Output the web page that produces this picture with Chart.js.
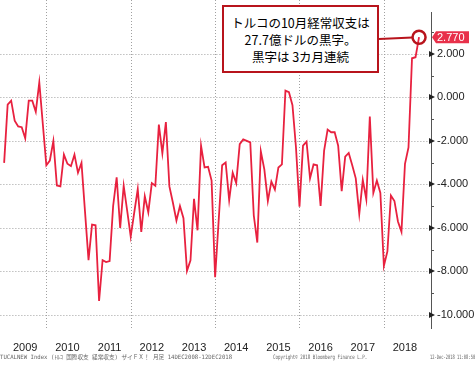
<!DOCTYPE html>
<html><head><meta charset="utf-8">
<script src="https://cdn.jsdelivr.net/npm/chart.js@4.4.0/dist/chart.umd.min.js"></script>
<style>
html,body{margin:0;padding:0;background:#fff;}
#wrap{position:relative;width:476px;height:365px;overflow:hidden;background:#fff;}
#c{position:absolute;left:0;top:0;}
#note{position:absolute;left:222px;top:5px;width:157px;height:68px;box-sizing:border-box;border:2.5px solid #b8141c;background:#fff;
 font-family:"Noto Sans CJK JP";font-size:12.5px;line-height:17px;text-align:center;color:#000;padding-top:7px;}
.foot{position:absolute;top:354px;font-family:"DejaVu Sans Mono","Noto Sans CJK JP";font-size:6px;line-height:6px;color:#666;white-space:nowrap;transform-origin:left top;}
</style></head>
<body>
<div id="wrap">
<canvas id="c" width="476" height="365"></canvas>
<div id="note">トルコの10月経常収支は<br>27.7億ドルの黒字。<br>黒字は 3カ月連続</div>
<div class="foot" data-x="0" data-w="232">TUCALNEW Index (ﾄﾙｺ 国際収支 経常収支) ザイＦＸ！ 月足 14DEC2008-12DEC2018</div>
<div class="foot" data-x="273" data-w="94">Copyright© 2018 Bloomberg Finance L.P.</div>
<div class="foot" data-x="430" data-w="45">12-Dec-2018 11:08:50</div>
</div>
<script>
// Categories: monthly observations, Dec 2008 .. Oct 2018
const firstYear = 2008, firstMonth = 12;
// Turkey current account balance, USD million
const caValues = [
 -3010, -330, -150, -1070, -1330, -1370, -1880, -150, -150, -660, 690, -1220,
 -3120, -2900, -2000, -4050, -4090, -2630, -3050, -3160, -2630, -3460, -3010, -5250,
 -7480, -5850, -5880, -9360, -7480, -7570, -7520, -4990, -3670, -6000, -4060, -5210,
 -6400, -5300, -4210, -6180, -4540, -5280, -3940, -4060, -1250, -2570, -1130, -4090,
 -4840, -5660, -4990, -5550, -7970, -7490, -4660, -6110, -2220, -3220, -3190, -3820,
 -8270, -5690, -3120, -2990, -4720, -3460, -3940, -2150, -1930, -2000, -2070, -5430,
 -6670, -2480, -3310, -4760, -3870, -4240, -3220, -3080, 310, 240, -360, -2300,
 -5020, -2220, -2030, -3720, -3080, -3120, -4990, -2450, -1480, -1600, -1600, -2220,
 -4310, -2720, -2550, -3120, -3720, -5360, -3790, -4690, -880, -4390, -3820, -4390,
 -7750, -7080, -4510, -4760, -5700, -6180, -3050, -2300, 1800, 1850, 2770
];
const months = caValues.map((_, i) => {
  const m = (firstMonth - 1 + i) % 12 + 1;
  const y = firstYear + Math.floor((firstMonth - 1 + i) / 12);
  return y + '-' + String(m).padStart(2, '0');
});
const yearLabels = ['2009','2010','2011','2012','2013','2014','2015','2016','2017','2018'];
const yMin = -10600, yMax = 3900;

const lineColor = '#e8213f';
const noteColor = '#b8141c';

const idxOf = lab => months.indexOf(lab);
const yearMidIdx = yearLabels.map(yl => idxOf(yl + '-06'));
const gridIdx = ['2009-12','2011-12','2013-12','2015-12','2017-12'].map(idxOf);

const decor = {
  id: 'decor',
  beforeDatasetsDraw(chart) {
    const {ctx, chartArea: a, scales: {x, y}} = chart;
    ctx.save();
    ctx.strokeStyle = '#a0a0a0';
    ctx.lineWidth = 1;
    ctx.setLineDash([1, 2]);
    y.ticks.forEach(t => {
      if (t.value % 2000 !== 0) return;
      const py = Math.round(y.getPixelForValue(t.value)) + 0.5;
      ctx.beginPath(); ctx.moveTo(a.left, py); ctx.lineTo(a.right, py); ctx.stroke();
    });
    gridIdx.forEach(m => {
      const px = Math.round(x.getPixelForValue(m)) + 0.5;
      ctx.beginPath(); ctx.moveTo(px, 0); ctx.lineTo(px, a.bottom + 2); ctx.stroke();
    });
    ctx.restore();
  },
  afterDraw(chart) {
    const {ctx, chartArea: a, scales: {x, y}} = chart;
    ctx.save();
    const ax = a.right;
    // tick marks
    y.ticks.forEach(t => {
      const py = Math.round(y.getPixelForValue(t.value));
      if (t.value % 2000 === 0) {
        ctx.fillStyle = '#222';
        ctx.beginPath(); ctx.moveTo(ax - 2, py - 3); ctx.lineTo(ax - 2, py + 3); ctx.lineTo(ax + 4, py); ctx.closePath(); ctx.fill();
      } else {
        ctx.strokeStyle = '#555'; ctx.lineWidth = 1;
        ctx.beginPath(); ctx.moveTo(ax, py + 0.5); ctx.lineTo(ax + 3, py + 0.5); ctx.stroke();
      }
    });
    // last value tag
    const li = caValues.length - 1;
    const lv = caValues[li];
    const ly = y.getPixelForValue(lv);
    ctx.fillStyle = '#e8304a';
    ctx.beginPath();
    ctx.moveTo(ax + 1, ly); ctx.lineTo(ax + 5, ly - 6); ctx.lineTo(ax + 38, ly - 6);
    ctx.lineTo(ax + 38, ly + 6); ctx.lineTo(ax + 5, ly + 6); ctx.closePath(); ctx.fill();
    ctx.fillStyle = '#fff';
    ctx.font = '11px "Liberation Sans"';
    ctx.textBaseline = 'middle'; ctx.textAlign = 'left';
    ctx.fillText((lv / 1000).toFixed(3), ax + 6, ly + 0.5);
    // circle + connector
    const cx = x.getPixelForValue(li), cy = ly;
    const r = 6.5;
    ctx.strokeStyle = noteColor; ctx.lineWidth = 2.5;
    ctx.beginPath(); ctx.arc(cx, cy, r, 0, Math.PI * 2); ctx.stroke();
    const sx = 379, sy = 39;
    const dx = sx - cx, dy = sy - cy, d = Math.hypot(dx, dy);
    ctx.lineWidth = 2;
    ctx.beginPath(); ctx.moveTo(sx, sy); ctx.lineTo(cx + dx / d * r, cy + dy / d * r); ctx.stroke();
    ctx.restore();
  }
};

new Chart(document.getElementById('c'), {
  type: 'line',
  data: {
    datasets: [{
      data: caValues.map((v, i) => ({x: i, y: v})),
      borderColor: lineColor,
      borderWidth: 1.8,
      pointRadius: 0,
      tension: 0,
      fill: false
    }]
  },
  options: {
    responsive: false,
    animation: false,
    devicePixelRatio: 1,
    layout: {padding: {top: 5, left: 0, right: 0, bottom: 0}},
    plugins: {legend: {display: false}, tooltip: {enabled: false}},
    scales: {
      x: {
        type: 'linear',
        min: -1.07, max: 121.4,
        grid: {display: false, drawTicks: false},
        border: {display: false},
        afterBuildTicks: s => { s.ticks = yearMidIdx.map(v => ({value: v})); },
        ticks: {
          autoSkip: false, maxRotation: 0, padding: 13,
          font: {family: 'Liberation Sans', size: 11}, color: '#222',
          callback: (v, i) => yearLabels[i]
        },
        afterFit: s => { s.height = 37; }
      },
      y: {
        position: 'right',
        min: yMin, max: yMax,
        grid: {display: false, drawTicks: false},
        border: {display: true, color: '#555', width: 1},
        afterBuildTicks: s => {
          const t = [];
          for (let v = Math.ceil(yMin / 1000) * 1000; v <= yMax; v += 1000) t.push({value: v});
          s.ticks = t;
        },
        ticks: {
          padding: 6,
          font: {family: 'Liberation Sans', size: 11}, color: '#222',
          callback: v => (v % 2000 === 0 ? (v / 1000).toFixed(3) : '')
        },
        afterFit: s => { s.width = 45; }
      }
    }
  },
  plugins: [decor]
});

document.querySelectorAll('.foot').forEach(el => {
  el.style.left = el.dataset.x + 'px';
  const w = el.scrollWidth;
  el.style.transform = 'scaleX(' + (parseFloat(el.dataset.w) / w) + ')';
});
</script>
</body></html>
